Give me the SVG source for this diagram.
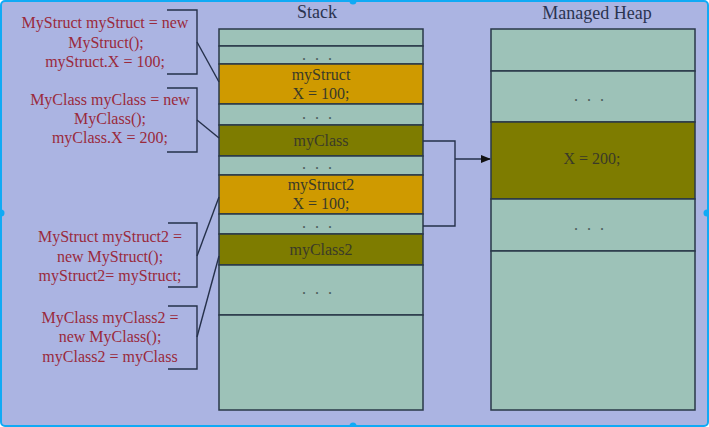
<svg xmlns="http://www.w3.org/2000/svg" width="709" height="427" viewBox="0 0 709 427">
<defs>
<style>
.lbl{font-family:"Liberation Serif","Times New Roman",serif;font-size:16px;fill:#9a2a3c;text-anchor:middle}
.ttl{font-family:"Liberation Serif","Times New Roman",serif;font-size:18px;fill:#2a3350;text-anchor:middle}
.cell{font-family:"Liberation Serif","Times New Roman",serif;font-size:16px;fill:#3a3a28;text-anchor:middle}
.dots{font-family:"Liberation Serif","Times New Roman",serif;font-size:16px;fill:#4a5a5a;text-anchor:middle}
.lt{fill:#9dc2b8;stroke:#2a3848;stroke-width:1.5}
.or{fill:#cf9a00;stroke:#2a3848;stroke-width:1.5}
.ol{fill:#7e7c00;stroke:#2a3848;stroke-width:1.5}
.ln{fill:none;stroke:#25304a;stroke-width:1.4}
</style>
<marker id="ah" markerWidth="10" markerHeight="8" refX="9" refY="4" orient="auto" markerUnits="userSpaceOnUse">
<path d="M0,0 L10,4 L0,8 Z" fill="#111"/>
</marker>
</defs>
<rect x="1" y="1" width="707" height="425" rx="4" fill="#abb4e2" stroke="#10aaf5" stroke-width="2"/>
<circle cx="353" cy="1" r="3.5" fill="#10aaf5"/>
<circle cx="353" cy="426" r="3.5" fill="#10aaf5"/>
<circle cx="1" cy="213" r="3.5" fill="#10aaf5"/>
<circle cx="707" cy="213" r="3.5" fill="#10aaf5"/>

<text class="ttl" x="317" y="18">Stack</text>
<text class="ttl" x="597" y="19">Managed Heap</text>

<g id="stack">
<rect class="lt" x="219" y="29" width="204" height="17"/>
<rect class="lt" x="219" y="46" width="204" height="18"/>
<text class="dots" y="60"><tspan x="304">.</tspan><tspan x="317">.</tspan><tspan x="330">.</tspan></text>
<rect class="or" x="219" y="64" width="204" height="40"/>
<text class="cell" x="321" y="80">myStruct</text>
<text class="cell" x="321" y="99">X = 100;</text>
<rect class="lt" x="219" y="104" width="204" height="21"/>
<text class="dots" y="119"><tspan x="304">.</tspan><tspan x="317">.</tspan><tspan x="330">.</tspan></text>
<rect class="ol" x="219" y="125" width="204" height="31"/>
<text class="cell" x="321" y="146">myClass</text>
<rect class="lt" x="219" y="156" width="204" height="19"/>
<text class="dots" y="169"><tspan x="304">.</tspan><tspan x="317">.</tspan><tspan x="330">.</tspan></text>
<rect class="or" x="219" y="175" width="204" height="39"/>
<text class="cell" x="321" y="190">myStruct2</text>
<text class="cell" x="321" y="209">X = 100;</text>
<rect class="lt" x="219" y="214" width="204" height="20"/>
<text class="dots" y="228"><tspan x="304">.</tspan><tspan x="317">.</tspan><tspan x="330">.</tspan></text>
<rect class="ol" x="219" y="234" width="204" height="31"/>
<text class="cell" x="321" y="255">myClass2</text>
<rect class="lt" x="219" y="265" width="204" height="50"/>
<text class="dots" y="294"><tspan x="304">.</tspan><tspan x="317">.</tspan><tspan x="330">.</tspan></text>
<rect class="lt" x="219" y="315" width="204" height="95"/>
</g>

<g id="heap">
<rect class="lt" x="491" y="29" width="204" height="42"/>
<rect class="lt" x="491" y="71" width="204" height="51"/>
<text class="dots" y="101"><tspan x="576">.</tspan><tspan x="589">.</tspan><tspan x="602">.</tspan></text>
<rect class="ol" x="491" y="122" width="204" height="77"/>
<text class="cell" x="592" y="164">X = 200;</text>
<rect class="lt" x="491" y="199" width="204" height="52"/>
<text class="dots" y="230"><tspan x="576">.</tspan><tspan x="589">.</tspan><tspan x="602">.</tspan></text>
<rect class="lt" x="491" y="251" width="204" height="159"/>
</g>

<g id="label1">
<text class="lbl" x="105" y="28">MyStruct myStruct = new</text>
<text class="lbl" x="106" y="48">MyStruct();</text>
<text class="lbl" x="105" y="67">myStruct.X = 100;</text>
</g>
<g id="label2">
<text class="lbl" x="110" y="105">MyClass myClass = new</text>
<text class="lbl" x="110" y="124">MyClass();</text>
<text class="lbl" x="110" y="143">myClass.X = 200;</text>
</g>
<g id="label3">
<text class="lbl" x="110" y="242">MyStruct myStruct2 =</text>
<text class="lbl" x="110" y="262">new MyStruct();</text>
<text class="lbl" x="110" y="281">myStruct2= myStruct;</text>
</g>
<g id="label4">
<text class="lbl" x="110" y="323">MyClass myClass2 =</text>
<text class="lbl" x="110" y="342">new MyClass();</text>
<text class="lbl" x="110" y="362">myClass2 = myClass</text>
</g>

<g id="connectors">
<path class="ln" d="M167,10 H197 V74 H167"/>
<path class="ln" d="M167,88 H197 V152 H167"/>
<path class="ln" d="M168,223 H197 V287 H168"/>
<path class="ln" d="M168,306 H197 V369 H168"/>
<path class="ln" d="M197,42 L219,82"/>
<path class="ln" d="M197,120 L219,138"/>
<path class="ln" d="M197,256 L219,197"/>
<path class="ln" d="M197,337 L219,256"/>
<path class="ln" d="M423,141 H455 V226 H423"/>
<path class="ln" d="M455,159 H490" stroke="#111" marker-end="url(#ah)"/>
</g>
</svg>
